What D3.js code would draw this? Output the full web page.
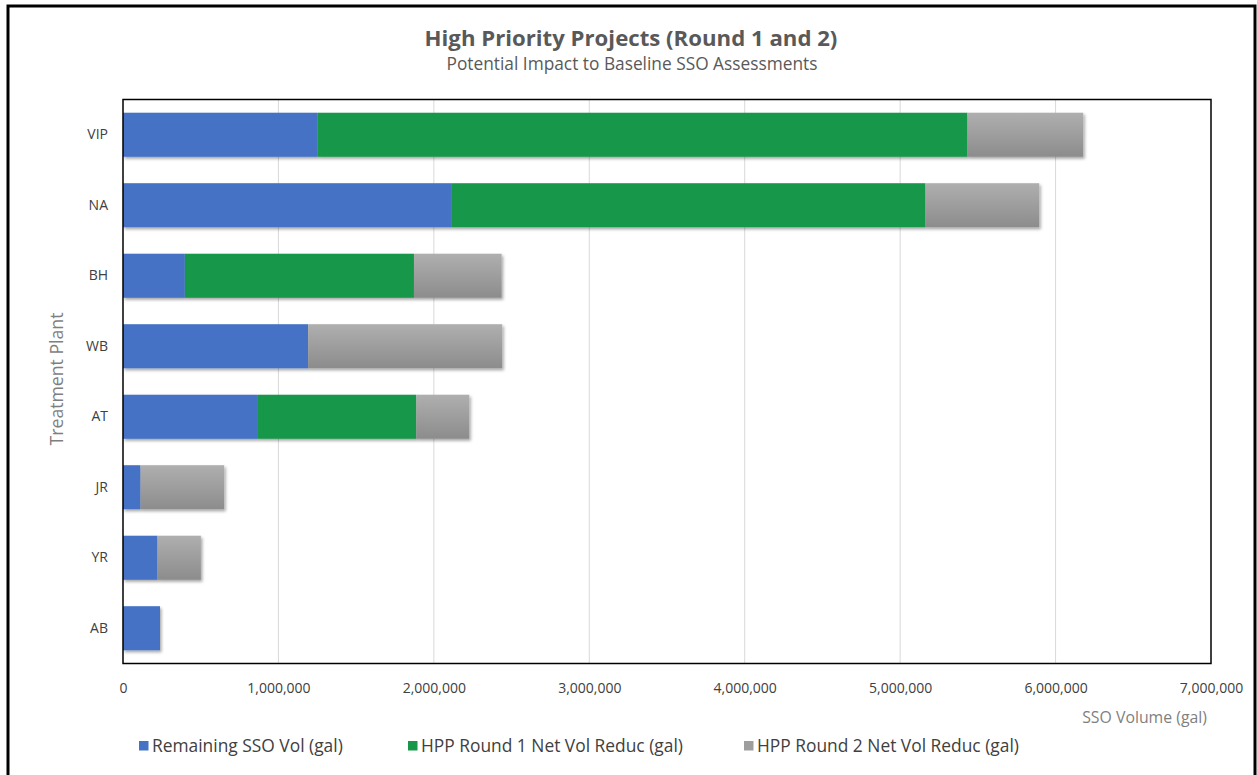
<!DOCTYPE html>
<html>
<head>
<meta charset="utf-8">
<script src="https://cdn.jsdelivr.net/npm/d3@7"></script>
<style>
  html, body { margin: 0; padding: 0; background: #fff; }
  svg { display: block; font-family: "Open Sans", Lato, "Liberation Sans", sans-serif; }
</style>
</head>
<body>
<svg id="chart" width="1257" height="775"></svg>
<script>
const categories = ["VIP", "NA", "BH", "WB", "AT", "JR", "YR", "AB"];
const remainingVol = [1253000, 2116000, 398000, 1191000, 863000, 113000, 222000, 238000];
const round1Reduc = [4180000, 3047000, 1474000, 0, 1024000, 0, 0, 0];
const round2Reduc = [745000, 732000, 564000, 1249000, 341000, 538000, 279000, 0];
const seriesNames = ["Remaining SSO Vol (gal)", "HPP Round 1 Net Vol Reduc (gal)", "HPP Round 2 Net Vol Reduc (gal)"];
const xTicks = [0, 1000000, 2000000, 3000000, 4000000, 5000000, 6000000, 7000000];

const svg = d3.select("#chart");
const m = { left: 123, right: 1211, top: 99.5, bottom: 663.5 };

// scale a text's font size so that it spans the target width; returns the size
function fitWidth(sel, target, base) {
  sel.attr("font-size", base);
  const w = sel.node().getComputedTextLength();
  const s = w > 0 ? base * target / w : base;
  sel.attr("font-size", s);
  return s;
}

// outer frame
svg.append("rect").attr("x", 8).attr("y", 6).attr("width", 1247).attr("height", 800)
  .attr("fill", "none").attr("stroke", "#000").attr("stroke-width", 3);

const defs = svg.append("defs");
const grad = defs.append("linearGradient").attr("id", "grayGrad")
  .attr("x1", 0).attr("y1", 0).attr("x2", 0).attr("y2", 1);
grad.append("stop").attr("offset", "0%").attr("stop-color", "#afafaf");
grad.append("stop").attr("offset", "100%").attr("stop-color", "#8c8c8c");
const f = defs.append("filter").attr("id", "shadow").attr("x", "-5%").attr("y", "-20%").attr("width", "115%").attr("height", "150%");
f.append("feDropShadow").attr("dx", 1.5).attr("dy", 2).attr("stdDeviation", 1.5)
  .attr("flood-color", "#000").attr("flood-opacity", 0.35);

const colors = ["#4472C4", "#16974A", "url(#grayGrad)"];
const legendColors = ["#4472C4", "#16974A", "#9e9e9e"];

const x = d3.scaleLinear().domain([0, 7000000]).range([m.left, m.right]);
const y = d3.scaleBand().domain(categories).range([m.top, m.bottom]).paddingInner(0.375).paddingOuter(0.1875);

// gridlines
svg.append("g").selectAll("line").data(xTicks.slice(1, -1)).join("line")
  .attr("x1", d => x(d)).attr("x2", d => x(d))
  .attr("y1", m.top).attr("y2", m.bottom)
  .attr("stroke", "#d9d9d9").attr("stroke-width", 1);

// stacked data
const rows = categories.map((c, i) => ({ cat: c, s0: remainingVol[i], s1: round1Reduc[i], s2: round2Reduc[i] }));
const stack = d3.stack().keys(["s0", "s1", "s2"])(rows);

const barsG = svg.append("g");
categories.forEach((c, i) => {
  const g = barsG.append("g").attr("filter", "url(#shadow)");
  stack.forEach((layer, k) => {
    const d = layer[i];
    if (d[1] - d[0] <= 0) return;
    g.append("rect")
      .attr("x", x(d[0]))
      .attr("y", y(c))
      .attr("width", x(d[1]) - x(d[0]))
      .attr("height", y.bandwidth())
      .attr("fill", colors[k]);
  });
});

// plot border
svg.append("rect").attr("x", m.left).attr("y", m.top)
  .attr("width", m.right - m.left).attr("height", m.bottom - m.top)
  .attr("fill", "none").attr("stroke", "#000").attr("stroke-width", 1.5);

// x axis
const xAxis = d3.axisBottom(x).tickValues(xTicks).tickSize(0).tickPadding(0)
  .tickFormat(d3.format(","));
const xg = svg.append("g").attr("transform", `translate(0,${m.bottom})`).call(xAxis);
xg.select(".domain").remove();
xg.selectAll("text").attr("dy", null).attr("y", 29).attr("font-size", 14)
  .attr("fill", "#404040").attr("font-family", "'Open Sans', Lato, sans-serif");

// y axis
const yAxis = d3.axisLeft(y).tickSize(0).tickPadding(15);
const yg = svg.append("g").attr("transform", `translate(${m.left},0)`).call(yAxis);
yg.select(".domain").remove();
yg.selectAll("text").attr("font-size", 14).attr("fill", "#404040")
  .attr("font-family", "'Open Sans', Lato, sans-serif");

// titles
fitWidth(svg.append("text").attr("x", 631).attr("y", 46).attr("text-anchor", "middle")
  .attr("font-weight", "bold").attr("fill", "#595959")
  .text("High Priority Projects (Round 1 and 2)"), 413, 20);
fitWidth(svg.append("text").attr("x", 632).attr("y", 70).attr("text-anchor", "middle")
  .attr("fill", "#595959")
  .text("Potential Impact to Baseline SSO Assessments"), 371, 15);

// axis titles
fitWidth(svg.append("text").attr("x", 1207).attr("y", 723).attr("text-anchor", "end")
  .attr("fill", "#7f7f7f").text("SSO Volume (gal)"), 125, 15);
fitWidth(svg.append("text").attr("transform", "translate(63,379) rotate(-90)").attr("text-anchor", "middle")
  .attr("fill", "#7f7f7f").text("Treatment Plant"), 133, 15);

// legend
const legendX = [139, 408, 744];
const lg = svg.append("g");
const probe = lg.append("text").attr("x", 0).attr("y", -50).text(seriesNames[2]);
const legendSize = fitWidth(probe, 262, 15);
probe.remove();
seriesNames.forEach((n, k) => {
  lg.append("rect").attr("x", legendX[k]).attr("y", 741).attr("width", 9.5).attr("height", 9.5)
    .attr("fill", legendColors[k]);
  lg.append("text").attr("x", legendX[k] + 13).attr("y", 752)
    .attr("font-size", legendSize).attr("fill", "#404040").text(n);
});
</script>
</body>
</html>
